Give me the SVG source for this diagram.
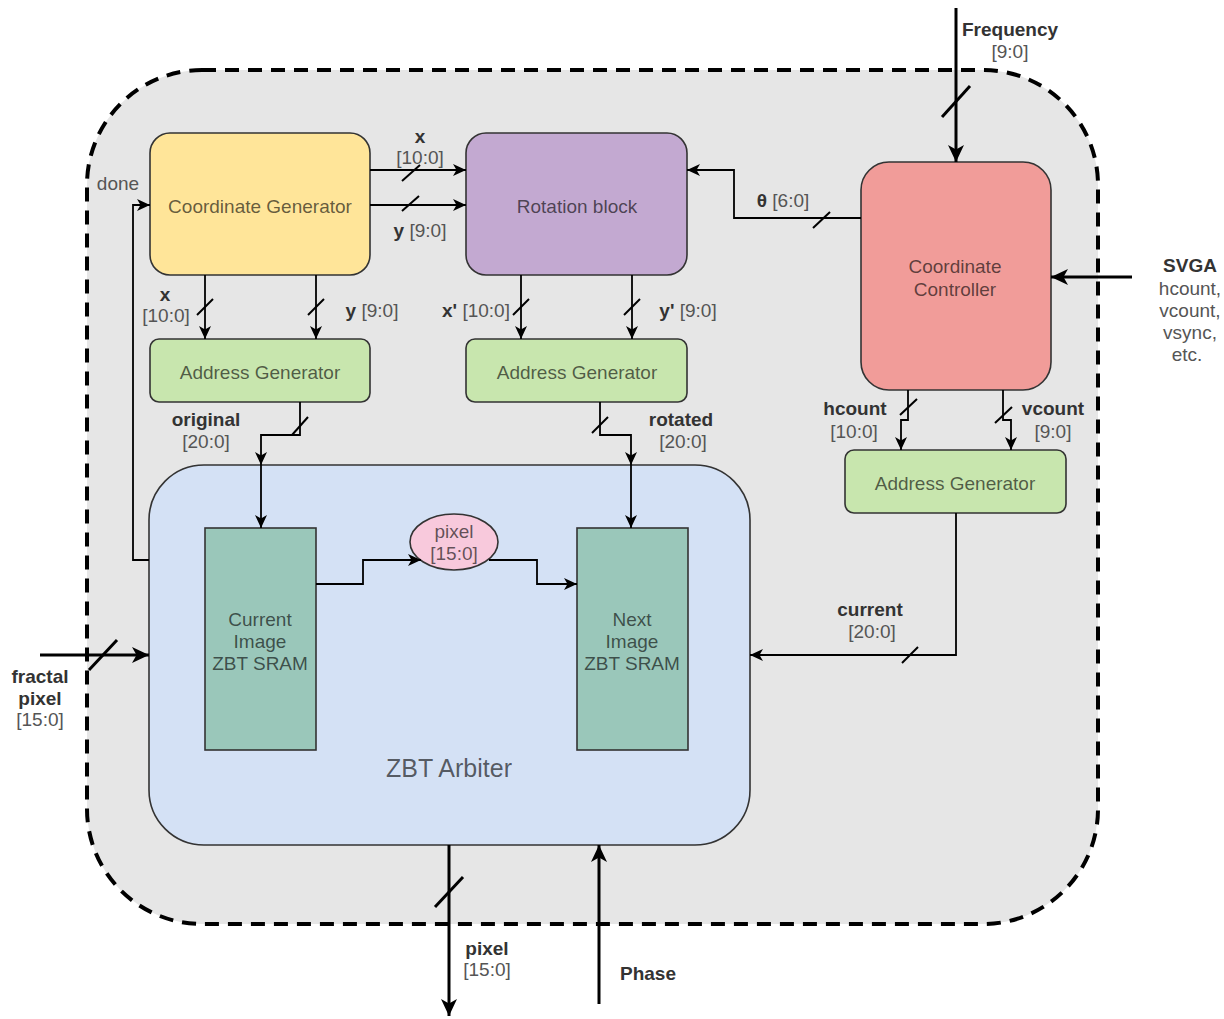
<svg xmlns="http://www.w3.org/2000/svg" width="1224" height="1019" viewBox="0 0 1224 1019">
<defs>
<marker id="arr" markerUnits="userSpaceOnUse" markerWidth="14" markerHeight="12" refX="13" refY="6" orient="auto">
<path d="M0,0 L13,6 L0,12 L3.5,6 z" fill="#000"/>
</marker>
<marker id="arrL" markerUnits="userSpaceOnUse" markerWidth="18" markerHeight="16" refX="17" refY="8" orient="auto">
<path d="M0,0 L17,8 L0,16 L4.5,8 z" fill="#000"/>
</marker>
<style>
.t{font-family:"Liberation Sans",Arial,sans-serif;font-size:19px;text-anchor:middle}
.n{fill:#000;fill-opacity:0.62}
.b{font-weight:bold;fill:#333}
.g{fill:#555}
.box{stroke:#333;stroke-width:1.6}
.w{fill:none;stroke:#000;stroke-width:1.8}
.W{fill:none;stroke:#000;stroke-width:3}
.s{stroke:#000;stroke-width:2}
.S{stroke:#000;stroke-width:3}
</style>
</defs>
<rect width="1224" height="1019" fill="#fff"/>
<g id="boundary">
<rect x="87" y="70" width="1011" height="854" rx="115" ry="115" fill="#e6e6e6" stroke="#000" stroke-width="4" stroke-dasharray="14 9"/>
</g>
<g id="coordinate-generator">
<rect class="box" x="150" y="133" width="220" height="142" rx="20" fill="#ffe599"/>
<text class="t n" x="260" y="213">Coordinate Generator</text>
</g>
<g id="rotation-block">
<rect class="box" x="466" y="133" width="221" height="142" rx="20" fill="#c3a9d1"/>
<text class="t n" x="577" y="213">Rotation block</text>
</g>
<g id="coordinate-controller">
<rect class="box" x="861" y="162" width="190" height="228" rx="28" fill="#f19c99"/>
<text class="t n" x="955" y="273">Coordinate</text>
<text class="t n" x="955" y="296">Controller</text>
</g>
<g id="address-generator-1">
<rect class="box" x="150" y="339" width="220" height="63" rx="9" fill="#c8e6ae"/>
<text class="t n" x="260" y="379">Address Generator</text>
</g>
<g id="address-generator-2">
<rect class="box" x="466" y="339" width="221" height="63" rx="9" fill="#c8e6ae"/>
<text class="t n" x="577" y="379">Address Generator</text>
</g>
<g id="address-generator-3">
<rect class="box" x="845" y="450" width="221" height="63" rx="9" fill="#c8e6ae"/>
<text class="t n" x="955" y="490">Address Generator</text>
</g>
<g id="zbt-arbiter">
<rect class="box" x="149" y="465" width="601" height="380" rx="55" fill="#d4e1f5"/>
<text class="t n" x="449" y="777" style="font-size:25px">ZBT Arbiter</text>
</g>
<g id="current-image">
<rect class="box" x="205" y="528" width="111" height="222" fill="#9ac7ba"/>
<text class="t n" x="260" y="626">Current</text>
<text class="t n" x="260" y="648">Image</text>
<text class="t n" x="260" y="670">ZBT SRAM</text>
</g>
<g id="next-image">
<rect class="box" x="577" y="528" width="111" height="222" fill="#9ac7ba"/>
<text class="t n" x="632" y="626">Next</text>
<text class="t n" x="632" y="648">Image</text>
<text class="t n" x="632" y="670">ZBT SRAM</text>
</g>
<g id="pixel-bus">
<ellipse class="box" cx="454" cy="542" rx="44" ry="28" fill="#f8c9dc"/>
<text class="t n" x="454" y="538">pixel</text>
<text class="t n" x="454" y="560">[15:0]</text>
</g>
<g id="connectors">
<!-- coord gen -> rotation -->
<path class="w" d="M370,170 H466" marker-end="url(#arr)"/>
<line class="s" x1="402" y1="181" x2="420" y2="165"/>
<path class="w" d="M370,205 H466" marker-end="url(#arr)"/>
<line class="s" x1="402" y1="211" x2="419" y2="196"/>
<!-- theta -->
<path class="w" d="M861,218 H734 V170 H687" marker-end="url(#arr)"/>
<line class="s" x1="813" y1="228" x2="830" y2="212"/>
<!-- frequency -->
<path class="W" d="M956,8 V162" marker-end="url(#arrL)"/>
<line class="S" x1="942" y1="117" x2="970" y2="86"/>
<!-- SVGA -->
<path class="W" d="M1132,277 H1051" marker-end="url(#arrL)"/>
<!-- coord gen -> addr gen 1 -->
<path class="w" d="M205,275 V339" marker-end="url(#arr)"/>
<line class="s" x1="197" y1="315" x2="213" y2="299"/>
<path class="w" d="M316,275 V339" marker-end="url(#arr)"/>
<line class="s" x1="308" y1="315" x2="324" y2="299"/>
<!-- rotation -> addr gen 2 -->
<path class="w" d="M521,275 V339" marker-end="url(#arr)"/>
<line class="s" x1="513" y1="315" x2="529" y2="299"/>
<path class="w" d="M632,275 V339" marker-end="url(#arr)"/>
<line class="s" x1="624" y1="315" x2="640" y2="299"/>
<!-- addr gen 1 -> ZBT -> current image -->
<path class="w" d="M300,402 V435 H261 V465" marker-end="url(#arr)"/>
<path class="w" d="M261,465 V528" marker-end="url(#arr)"/>
<line class="s" x1="292" y1="435" x2="308" y2="417"/>
<!-- addr gen 2 -> ZBT -> next image -->
<path class="w" d="M600,402 V435 H631 V465" marker-end="url(#arr)"/>
<path class="w" d="M631,465 V528" marker-end="url(#arr)"/>
<line class="s" x1="592" y1="433" x2="608" y2="417"/>
<!-- coord controller -> addr gen 3 -->
<path class="w" d="M908,390 V420 H901 V450" marker-end="url(#arr)"/>
<line class="s" x1="900" y1="415" x2="917" y2="399"/>
<path class="w" d="M1003,390 V420 H1011 V450" marker-end="url(#arr)"/>
<line class="s" x1="995" y1="423" x2="1012" y2="407"/>
<!-- addr gen 3 -> ZBT -->
<path class="w" d="M956,513 V655 H750" marker-end="url(#arr)"/>
<line class="s" x1="902" y1="663" x2="918" y2="647"/>
<!-- current image -> pixel -> next image -->
<path class="w" d="M316,584 H363 V560 H421" marker-end="url(#arr)"/>
<path class="w" d="M489,560 H537 V584 H577" marker-end="url(#arr)"/>
<!-- done -->
<path class="w" d="M149,560 H133 V205 H150" marker-end="url(#arr)"/>
<!-- fractal pixel -->
<path class="W" d="M40,655 H149" marker-end="url(#arrL)"/>
<line class="S" x1="89" y1="670" x2="117" y2="640"/>
<!-- pixel out -->
<path class="W" d="M449,845 V1016" marker-end="url(#arrL)"/>
<line class="S" x1="435" y1="907" x2="463" y2="877"/>
<!-- phase -->
<path class="W" d="M599,1004 V845" marker-end="url(#arrL)"/>
</g>
<g id="labels">
<text class="t b" x="420" y="143">x</text>
<text class="t g" x="420" y="164">[10:0]</text>
<text class="t g" x="420" y="237"><tspan class="b">y</tspan> [9:0]</text>
<text class="t g" x="783" y="207"><tspan class="b">θ</tspan> [6:0]</text>
<text class="t b" x="1010" y="36">Frequency</text>
<text class="t g" x="1010" y="58">[9:0]</text>
<text class="t b" x="1190" y="272">SVGA</text>
<text class="t g" x="1190" y="295">hcount,</text>
<text class="t g" x="1190" y="317">vcount,</text>
<text class="t g" x="1190" y="339">vsync,</text>
<text class="t g" x="1187" y="361">etc.</text>
<text class="t b" x="165" y="301">x</text>
<text class="t g" x="166" y="322">[10:0]</text>
<text class="t g" x="372" y="317"><tspan class="b">y</tspan> [9:0]</text>
<text class="t g" x="476" y="317"><tspan class="b">x'</tspan> [10:0]</text>
<text class="t g" x="688" y="317"><tspan class="b">y'</tspan> [9:0]</text>
<text class="t b" x="206" y="426">original</text>
<text class="t g" x="206" y="448">[20:0]</text>
<text class="t b" x="681" y="426">rotated</text>
<text class="t g" x="683" y="448">[20:0]</text>
<text class="t b" x="855" y="415">hcount</text>
<text class="t g" x="854" y="438">[10:0]</text>
<text class="t b" x="1053" y="415">vcount</text>
<text class="t g" x="1053" y="438">[9:0]</text>
<text class="t b" x="870" y="616">current</text>
<text class="t g" x="872" y="638">[20:0]</text>
<text class="t g" x="118" y="190">done</text>
<text class="t b" x="40" y="683">fractal</text>
<text class="t b" x="40" y="705">pixel</text>
<text class="t g" x="40" y="726">[15:0]</text>
<text class="t b" x="487" y="955">pixel</text>
<text class="t g" x="487" y="976">[15:0]</text>
<text class="t b" x="648" y="980">Phase</text>
</g>
</svg>
